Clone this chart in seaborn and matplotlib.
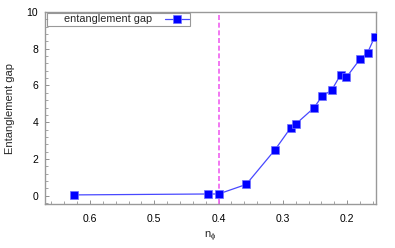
import matplotlib
matplotlib.use('Agg')
import matplotlib.pyplot as plt
import seaborn as sns
import pandas as pd
from matplotlib.ticker import MultipleLocator

# filling factor vs entanglement gap
n_phi = [0.625, 0.417, 0.4, 0.357, 0.3125, 0.288, 0.279, 0.252, 0.239,
         0.224, 0.21, 0.201, 0.18, 0.168, 0.157]
gap = [0.05, 0.1, 0.1, 0.62, 2.49, 3.69, 3.93, 4.77, 5.41,
       5.75, 6.59, 6.45, 7.43, 7.79, 8.65]
critical = 0.4

df = pd.DataFrame({'n_phi': n_phi, 'gap': gap})

sns.set_style('white')
plt.rcParams['font.family'] = ['Liberation Sans', 'DejaVu Sans']
plt.rcParams['mathtext.fontset'] = 'custom'
plt.rcParams['mathtext.rm'] = 'Liberation Sans'
plt.rcParams['mathtext.it'] = 'Liberation Sans'

fig = plt.figure(figsize=(3.95, 2.48), dpi=100)
ax = fig.add_axes([0.114, 0.177, 0.838, 0.775])

ax.axvline(critical, color='#f060f0', ls=(0, (3, 1.6)), lw=1.2, zorder=1)
sns.lineplot(data=df, x='n_phi', y='gap', ax=ax, sort=False, color='#4848ff',
             lw=0.9, marker='s', markersize=5.5, markerfacecolor='#0000ff',
             markeredgecolor='#7070ff', markeredgewidth=0.5,
             label='     entanglement gap', zorder=3)

ax.set_xlim(0.67, 0.155)
ax.set_ylim(-0.45, 10)
ax.set_xticks([0.6, 0.5, 0.4, 0.3, 0.2])
ax.set_xticklabels(['0.6', '0.5', '0.4', '0.3', '0.2'])
ax.set_yticks([0, 2, 4, 6, 8, 10])
ax.xaxis.set_minor_locator(MultipleLocator(0.02))
ax.yaxis.set_minor_locator(MultipleLocator(0.4))
ax.tick_params(axis='both', which='both', direction='in', colors='#808080',
               labelcolor='black', labelsize=7.5, bottom=True, left=True,
               top=False, right=False)
ax.tick_params(which='major', length=3, width=0.6)
ax.tick_params(which='minor', length=2, width=0.5)
ax.tick_params(axis='x', pad=7)
ax.tick_params(axis='y', pad=5)
for s in ax.spines.values():
    s.set_color('#999999')
    s.set_linewidth(1.0)

ax.set_xlabel(r'n$_\phi$', fontsize=8)
ax.set_ylabel('Entanglement gap', fontsize=8, labelpad=8)

leg = ax.legend(loc='upper left', markerfirst=False, fontsize=7.8, fancybox=False,
                frameon=True, borderpad=0.15, handlelength=2.2,
                borderaxespad=0.0, handletextpad=1.2,
                bbox_to_anchor=(0.006, 0.995))
leg.get_frame().set_edgecolor('#808080')
leg.get_frame().set_linewidth(0.8)

fig.savefig('out.png', dpi=100)
